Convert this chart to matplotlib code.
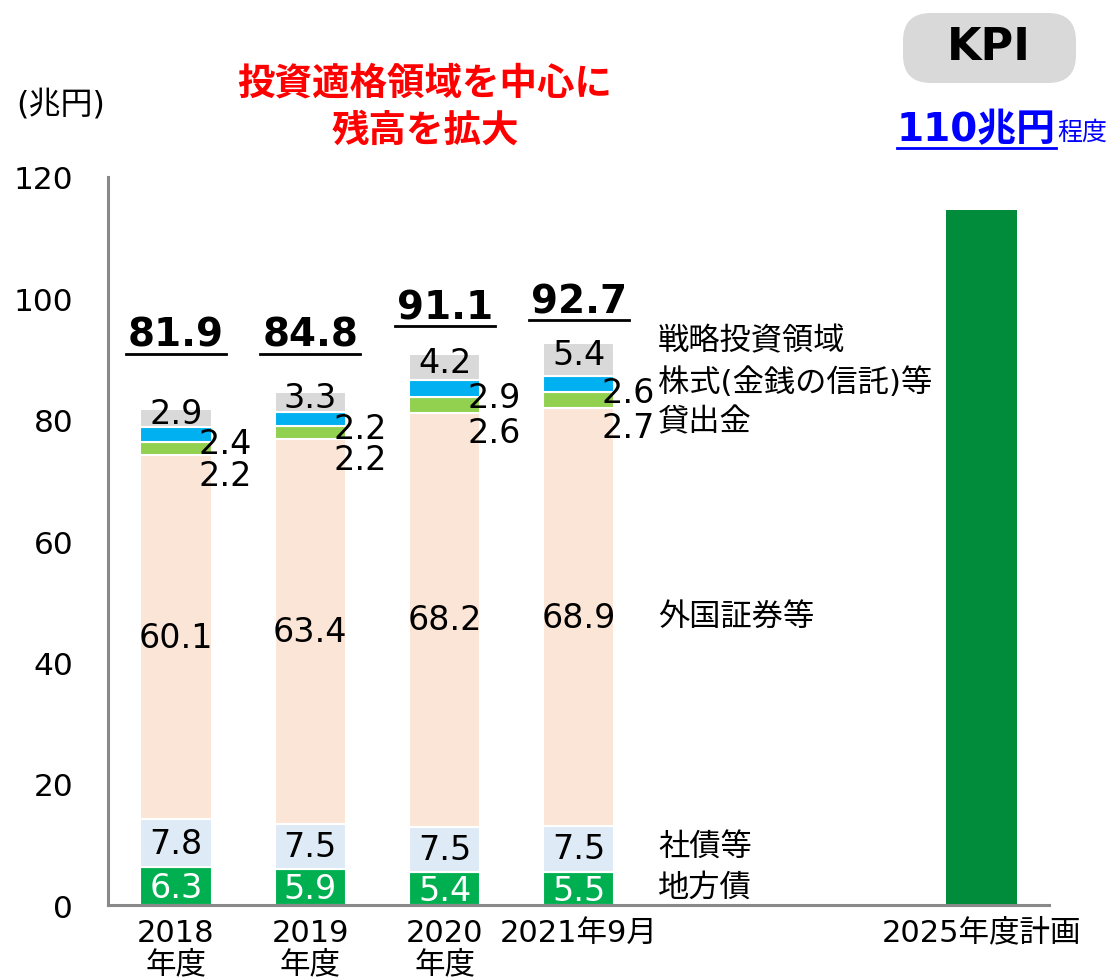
import matplotlib
matplotlib.use("Agg")
import matplotlib.pyplot as plt
from matplotlib.patches import FancyBboxPatch
from matplotlib.lines import Line2D
import numpy as np

plt.rcParams['font.family'] = ['DejaVu Sans', 'Noto Sans CJK JP']

categories = ["2018\n年度", "2019\n年度", "2020\n年度", "2021年9月"]
plan_label = "2025年度計画"
series_names = ["地方債", "社債等", "外国証券等", "貸出金", "株式(金銭の信託)等", "戦略投資領域"]
local_bonds = [6.3, 5.9, 5.4, 5.5]
corp_bonds = [7.8, 7.5, 7.5, 7.5]
foreign_sec = [60.1, 63.4, 68.2, 68.9]
loans = [2.2, 2.2, 2.6, 2.7]
stocks = [2.4, 2.2, 2.9, 2.6]
strategic = [2.9, 3.3, 4.2, 5.4]
totals = ["81.9", "84.8", "91.1", "92.7"]
plan_value = 114.5
yticks = [0, 20, 40, 60, 80, 100, 120]

colors = ["#00B050", "#DEEBF7", "#FBE5D6", "#92D050", "#00B0F0", "#D9D9D9"]
plan_color = "#008C3A"

W, H = 1111, 979
fig = plt.figure(figsize=(W / 100, H / 100), dpi=100)
ax = fig.add_axes([108 / W, 1 - 906 / H, (1049 - 108) / W, (906 - 178) / H])

x = np.array([0, 1, 2, 3])
x_plan = 6
bw = 0.53
series = [local_bonds, corp_bonds, foreign_sec, loans, stocks, strategic]
bottom = np.zeros(4)
bottoms = []
for vals, c in zip(series, colors):
    v = np.array(vals)
    ax.bar(x, v, bw, bottom=bottom, color=c, edgecolor="white", linewidth=1.5)
    bottoms.append(bottom.copy())
    bottom = bottom + v
ax.bar([x_plan], [plan_value], bw, color=plan_color, edgecolor="none")

fs = 24
# inside labels
for i in range(4):
    ax.text(x[i], bottoms[0][i] + local_bonds[i] / 2 - 0.3, f"{local_bonds[i]}", ha="center", va="center",
            fontsize=fs, color="white")
    ax.text(x[i], bottoms[1][i] + corp_bonds[i] / 2, f"{corp_bonds[i]}", ha="center", va="center",
            fontsize=fs, color="black")
    ax.text(x[i], bottoms[2][i] + foreign_sec[i] / 2, f"{foreign_sec[i]}", ha="center", va="center",
            fontsize=fs, color="black")
    ax.text(x[i], bottoms[5][i] + strategic[i] / 2 + 0.8, f"{strategic[i]}", ha="center", va="center",
            fontsize=fs, color="black")
    # outside labels for thin segments
    ax.text(x[i] + 0.37, bottoms[4][i] + stocks[i] / 2 - 1.5, f"{stocks[i]}", ha="center", va="center",
            fontsize=fs, color="black")
    ax.text(x[i] + 0.37, bottoms[3][i] + loans[i] / 2 - 4.5, f"{loans[i]}", ha="center", va="center",
            fontsize=fs, color="black")

# totals (bold, underlined)
total_y = [94.0, 94.0, 98.5, 99.5]
total_texts = []
for i in range(4):
    t = ax.text(x[i], total_y[i], totals[i], ha="center", va="center", fontsize=28,
                fontweight="bold", color="black")
    total_texts.append(t)

# series names on the right
name_y = [3.0, 9.6, 47.6, 79.6, 86.2, 93.1]
for nm, yy in zip(series_names, name_y):
    ax.text(3.59, yy, nm, ha="left", va="center", fontsize=22.5, color="black")

ax.set_xlim(-0.506, 6.5)
ax.set_ylim(0, 120)
ax.set_yticks(yticks)
ax.set_yticklabels([str(t) for t in yticks], fontsize=22.5)
ax.set_xticks(list(x) + [x_plan])
ax.set_xticklabels(categories + [plan_label], fontsize=22, linespacing=1.12)
ax.tick_params(axis="both", length=0)
ax.tick_params(axis="y", pad=25)
ax.tick_params(axis="x", pad=9)
for s in ["top", "right"]:
    ax.spines[s].set_visible(False)
for s in ["left", "bottom"]:
    ax.spines[s].set_color("#898989")
    ax.spines[s].set_linewidth(2.2)

# unit
fig.text(61 / W, 1 - 105 / H, "(兆円)", ha="center", va="center", fontsize=23)

# red message
fig.text(425 / W, 1 - 83 / H, "投資適格領域を中心に", ha="center", va="center", fontsize=27,
         fontweight="bold", color="#FF0000", family="Noto Sans CJK JP")
fig.text(425 / W, 1 - 130 / H, "残高を拡大", ha="center", va="center", fontsize=27,
         fontweight="bold", color="#FF0000", family="Noto Sans CJK JP")

# KPI box
box = FancyBboxPatch((903 / W, 1 - 84 / H), (1076 - 903) / W, (84 - 14) / H,
                     boxstyle="round,pad=0,rounding_size=0.025", transform=fig.transFigure,
                     facecolor="#D9D9D9", edgecolor="none", mutation_aspect=W / H)
fig.patches.append(box)
fig.text(989 / W, 1 - 48 / H, "KPI", ha="center", va="center", fontsize=32, fontweight="bold",
         color="black")

kpi_t = fig.text(1056 / W, 1 - 130 / H, "110兆円", ha="right", va="center", fontsize=28,
                 fontweight="bold", color="#0000FF")
fig.text(1057 / W, 1 - 133 / H, "程度", ha="left", va="center", fontsize=18, color="#0000FF")

# underlines
fig.canvas.draw()
r = fig.canvas.get_renderer()
def underline(t, color, lw, gap=2, ext=2):
    bb = t.get_window_extent(renderer=r)
    yline = bb.y0 - gap
    fig.add_artist(Line2D([(bb.x0 - ext) / W, (bb.x1 + ext) / W], [yline / H, yline / H],
                          transform=fig.transFigure, color=color, linewidth=lw))
for t in total_texts:
    underline(t, "black", 2.0, gap=0)
underline(kpi_t, "#0000FF", 2.0, gap=0, ext=0)

fig.savefig("out.png", dpi=100)
